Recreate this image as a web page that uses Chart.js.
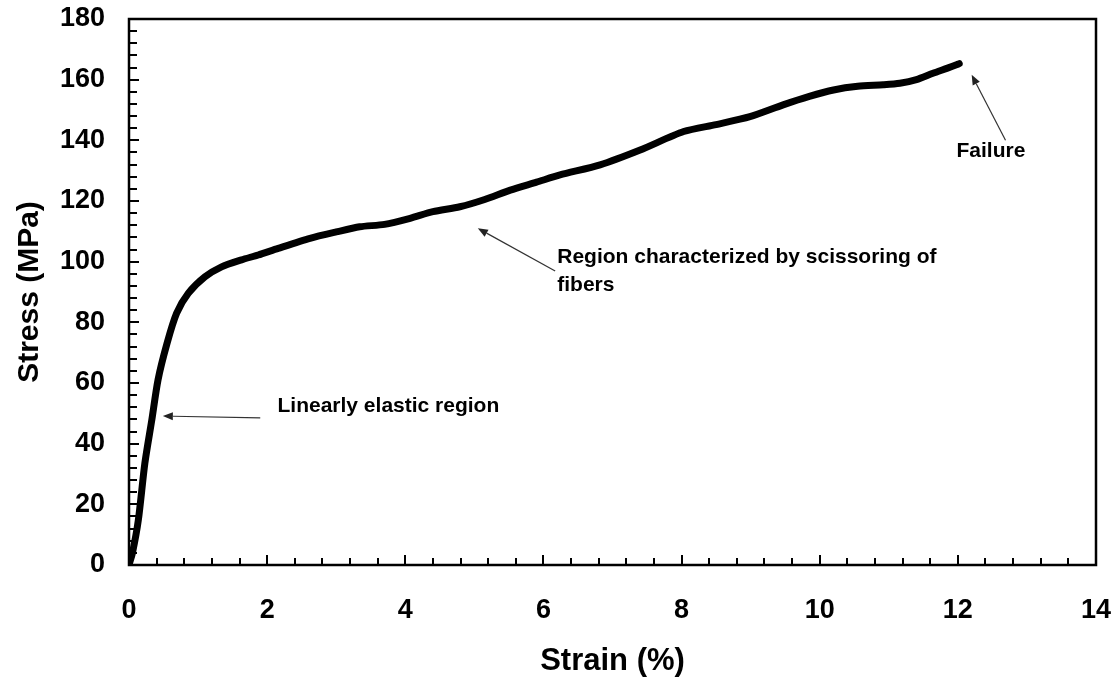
<!DOCTYPE html>
<html>
<head>
<meta charset="utf-8">
<script src="https://cdn.jsdelivr.net/npm/chart.js@4.4.1/dist/chart.umd.min.js"></script>
<style>
  html, body { margin: 0; padding: 0; background: #ffffff; }
  #wrap { width: 1117px; height: 680px; position: relative; }
</style>
</head>
<body>
<div id="wrap"><canvas id="c" width="1117" height="680"></canvas></div>
<script>
// ---- data ----
const strainPct = [0, 0.05, 0.135, 0.23, 0.33, 0.42, 0.55, 0.69, 0.86, 1.10, 1.34, 1.63, 1.87, 2.16, 2.62, 3.0, 3.34, 3.7, 4.07, 4.40, 4.79, 5.15, 5.52, 5.9, 6.24, 6.82, 7.40, 8.03, 8.5, 8.99, 9.47, 9.85, 10.20, 10.55, 10.92, 11.16, 11.4, 11.64, 11.85, 11.98, 12.02];
const stressMPa = [0, 4, 14.8, 33.6, 47.8, 61, 73, 83, 89.6, 95, 98.3, 100.6, 102.2, 104.4, 107.7, 109.8, 111.5, 112.3, 114.3, 116.5, 118.1, 120.5, 123.6, 126.2, 128.6, 131.9, 136.8, 142.9, 145.2, 147.8, 151.7, 154.5, 156.6, 157.8, 158.3, 158.8, 160.0, 162.1, 163.8, 164.9, 165.3];
const xTickRange = [0, 14];
const yTickRange = [0, 180];
const annotationTexts = [
  ["Linearly elastic region"],
  ["Region characterized by scissoring of", "fibers"],
  ["Failure"]
];
// arrow tail / tip in data units (strain %, stress MPa)
const arrowTails = [[1.90, 48.5], [6.17, 96.9], [12.69, 140.0]];
const arrowTips  = [[0.49, 49.1], [5.05, 111.0], [12.20, 161.6]];
const textAnchors = [[2.15, 52.3], [6.20, 101.5], [11.98, 136.5]];

const points = strainPct.map((x, i) => ({ x: x, y: stressMPa[i] }));
const FONT = "'Liberation Sans', Arial, sans-serif";

const framePlugin = {
  id: 'frameTicks',
  afterDraw(chart) {
    const ctx = chart.ctx;
    const a = chart.chartArea;
    const xs = chart.scales.x, ys = chart.scales.y;
    ctx.save();
    ctx.strokeStyle = '#000';
    // inward ticks
    ctx.lineWidth = 2;
    ctx.beginPath();
    for (let v = yTickRange[0] + 4; v < yTickRange[1]; v += 4) {
      const p = Math.round(ys.getPixelForValue(v));
      const len = (v % 20 === 0) ? 10 : 8;
      ctx.moveTo(a.left, p); ctx.lineTo(a.left + len, p);
    }
    for (let k = 1; k < 35; k++) {
      const v = k * 0.4;
      const p = Math.round(xs.getPixelForValue(v));
      const len = (k % 5 === 0) ? 10 : 7;
      ctx.moveTo(p, a.bottom); ctx.lineTo(p, a.bottom - len);
    }
    ctx.stroke();
    // frame
    ctx.lineWidth = 2.5;
    ctx.strokeRect(a.left, a.top, a.right - a.left, a.bottom - a.top);

    // annotations
    ctx.strokeStyle = '#333';
    ctx.fillStyle = '#222';
    ctx.lineWidth = 1.2;
    for (let i = 0; i < arrowTails.length; i++) {
      const tx = xs.getPixelForValue(arrowTails[i][0]);
      const ty = ys.getPixelForValue(arrowTails[i][1]);
      const hx = xs.getPixelForValue(arrowTips[i][0]);
      const hy = ys.getPixelForValue(arrowTips[i][1]);
      const ang = Math.atan2(hy - ty, hx - tx);
      const hl = 10, hw = 4;
      const bx = hx - hl * Math.cos(ang), by = hy - hl * Math.sin(ang);
      ctx.beginPath();
      ctx.moveTo(tx, ty); ctx.lineTo(bx, by);
      ctx.stroke();
      ctx.beginPath();
      ctx.moveTo(hx, hy);
      ctx.lineTo(bx + hw * Math.sin(ang), by - hw * Math.cos(ang));
      ctx.lineTo(bx - hw * Math.sin(ang), by + hw * Math.cos(ang));
      ctx.closePath();
      ctx.fill();
    }
    ctx.fillStyle = '#000';
    ctx.font = "bold 21px " + FONT;
    ctx.textAlign = 'left';
    ctx.textBaseline = 'middle';
    for (let i = 0; i < annotationTexts.length; i++) {
      const x0 = xs.getPixelForValue(textAnchors[i][0]);
      const y0 = ys.getPixelForValue(textAnchors[i][1]);
      annotationTexts[i].forEach((line, j) => ctx.fillText(line, x0, y0 + j * 28));
    }
    ctx.restore();
  }
};

new Chart(document.getElementById('c'), {
  type: 'line',
  data: {
    datasets: [{
      data: points,
      borderColor: '#000',
      borderWidth: 7,
      pointRadius: 0,
      tension: 0.25,
      fill: false,
      borderCapStyle: 'round',
      borderJoinStyle: 'round'
    }]
  },
  options: {
    responsive: false,
    animation: false,
    layout: { padding: { left: 0, top: 19, right: 21, bottom: 0 } },
    plugins: { legend: { display: false }, tooltip: { enabled: false } },
    scales: {
      x: {
        type: 'linear',
        min: xTickRange[0], max: xTickRange[1],
        ticks: { stepSize: 2, color: '#000', padding: 29, font: { family: FONT, size: 27, weight: 'bold' }, maxRotation: 0 },
        grid: { display: false, drawTicks: false },
        border: { display: false },
        title: { display: true, text: 'Strain (%)', color: '#000', font: { family: FONT, size: 31, weight: 'bold' }, padding: { top: 0, bottom: 0 } },
        afterFit(s) { s.height = 115; s.paddingLeft = 0; s.paddingRight = 0; }
      },
      y: {
        type: 'linear',
        min: yTickRange[0], max: yTickRange[1],
        ticks: { stepSize: 20, color: '#000', padding: 24, font: { family: FONT, size: 27, weight: 'bold' } },
        grid: { display: false, drawTicks: false },
        border: { display: false },
        title: { display: true, text: 'Stress (MPa)', color: '#000', font: { family: FONT, size: 30, weight: 'bold' }, padding: { top: 12, bottom: 0 } },
        afterFit(s) { s.width = 129; s.paddingTop = 0; s.paddingBottom = 0; }
      }
    }
  },
  plugins: [framePlugin]
});
</script>
</body>
</html>
